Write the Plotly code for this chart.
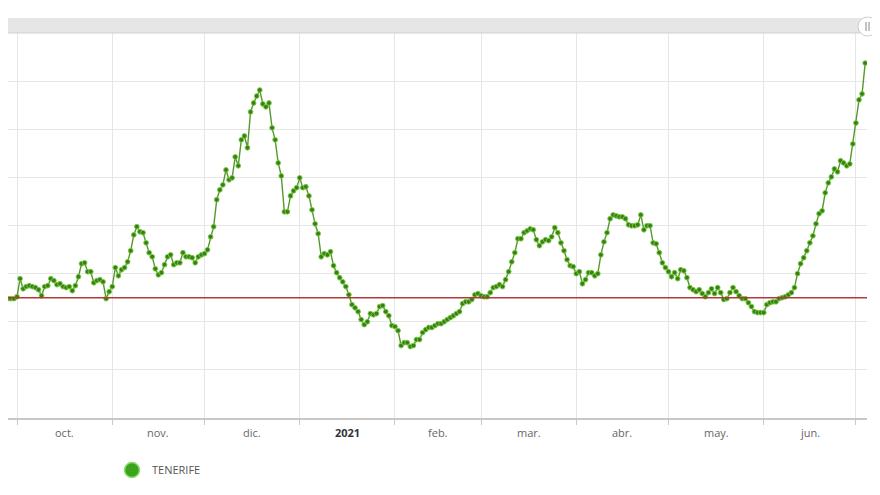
import pandas as pd
import plotly.graph_objects as go

# ---- data (daily values, red reference line at 1.0) ----
start_date = "2020-09-25"
sep_2020 = [1.012, 1.008, 0.996, 0.996, 0.996, 0.996]
oct_2020 = [1.004, 1.079, 1.037, 1.046, 1.050, 1.046, 1.042, 1.033, 1.008, 1.046,
            1.050, 1.079, 1.071, 1.054, 1.058, 1.046, 1.042, 1.046, 1.029, 1.050,
            1.087, 1.141, 1.145, 1.108, 1.108, 1.062, 1.071, 1.075, 1.066, 0.996,
            1.025]
nov_2020 = [1.046, 1.125, 1.091, 1.116, 1.125, 1.149, 1.195, 1.261, 1.295, 1.274,
            1.270, 1.228, 1.187, 1.170, 1.120, 1.095, 1.104, 1.137, 1.170, 1.178,
            1.137, 1.145, 1.145, 1.187, 1.170, 1.170, 1.166, 1.145, 1.170, 1.178]
dec_2020 = [1.183, 1.199, 1.253, 1.295, 1.407, 1.448, 1.469, 1.531, 1.490, 1.498,
            1.585, 1.548, 1.656, 1.672, 1.623, 1.772, 1.809, 1.838, 1.863, 1.805,
            1.793, 1.809, 1.706, 1.656, 1.560, 1.506, 1.357, 1.357, 1.423, 1.444,
            1.457]
jan_2021 = [1.498, 1.457, 1.461, 1.423, 1.365, 1.307, 1.266, 1.170, 1.183, 1.178,
            1.191, 1.133, 1.104, 1.083, 1.066, 1.046, 1.012, 0.971, 0.958, 0.942,
            0.909, 0.888, 0.900, 0.934, 0.929, 0.934, 0.963, 0.967, 0.942, 0.925,
            0.884]
feb_2021 = [0.880, 0.863, 0.801, 0.813, 0.813, 0.797, 0.801, 0.826, 0.826, 0.855,
            0.867, 0.876, 0.876, 0.884, 0.892, 0.892, 0.900, 0.909, 0.917, 0.925,
            0.934, 0.942, 0.975, 0.983, 0.983, 0.992, 1.012, 1.017]
mar_2021 = [1.008, 1.004, 1.004, 1.021, 1.042, 1.046, 1.054, 1.046, 1.075, 1.108,
            1.149, 1.187, 1.245, 1.245, 1.270, 1.278, 1.286, 1.282, 1.241, 1.216,
            1.232, 1.241, 1.237, 1.253, 1.291, 1.270, 1.228, 1.195, 1.158, 1.133,
            1.129]
apr_2021 = [1.100, 1.108, 1.058, 1.075, 1.104, 1.104, 1.091, 1.100, 1.178, 1.232,
            1.270, 1.328, 1.344, 1.340, 1.336, 1.336, 1.328, 1.303, 1.299, 1.299,
            1.303, 1.344, 1.282, 1.299, 1.299, 1.228, 1.224, 1.187, 1.145, 1.125]
may_2021 = [1.108, 1.087, 1.104, 1.079, 1.116, 1.112, 1.083, 1.042, 1.033, 1.025,
            1.033, 1.017, 1.004, 1.021, 1.037, 1.017, 1.042, 1.021, 0.992, 0.996,
            1.021, 1.042, 1.025, 1.008, 0.996, 0.996, 0.979, 0.963, 0.942, 0.938,
            0.938]
jun_2021 = [0.938, 0.971, 0.979, 0.983, 0.983, 0.996, 1.000, 1.004, 1.012, 1.021,
            1.042, 1.100, 1.141, 1.166, 1.195, 1.228, 1.257, 1.307, 1.349, 1.361,
            1.436, 1.477, 1.502, 1.535, 1.523, 1.569, 1.560, 1.548, 1.556, 1.639]
jul_2021 = [1.726, 1.822, 1.847, 1.975]

series_name = "TENERIFE"
threshold = 1.0
month_starts = ["2020-10-01", "2020-11-01", "2020-12-01", "2021-01-01", "2021-02-01",
                "2021-03-01", "2021-04-01", "2021-05-01", "2021-06-01", "2021-07-01"]
month_labels = ["oct.", "nov.", "dic.", "2021", "feb.", "mar.", "abr.", "may.", "jun."]

values = (sep_2020 + oct_2020 + nov_2020 + dec_2020 + jan_2021 + feb_2021 +
          mar_2021 + apr_2021 + may_2021 + jun_2021 + jul_2021)
dates = pd.date_range(start_date, periods=len(values), freq="D")

# ---- geometry (page has an 8px body margin, compensated here) ----
W, H = 880, 495
OFF = 8
ml, mt = 0, 33 - OFF
plot_w = 867 - OFF - ml
plot_h = 418 - 33
mr = W - ml - plot_w
mb = H - mt - plot_h


def px_x(px):  # page px -> paper x
    return (px - OFF - ml) / plot_w


def px_y(py):  # page px -> paper y
    return (mt + plot_h - (py - OFF)) / plot_h


fig = go.Figure()
fig.add_trace(go.Scatter(
    x=dates, y=values, mode="lines+markers", name=series_name, showlegend=False,
    line=dict(color="#55992c", width=1.4),
    marker=dict(size=4.8, color="#3f7a1c", line=dict(color="#72d23a", width=0.9)),
))
# legend entry (circle symbol, as in the original legend)
fig.add_trace(go.Scatter(
    x=[None], y=[None], mode="markers", name=series_name, showlegend=True,
    marker=dict(size=15, color="#3aa41a", line=dict(color="#8fdc6c", width=1.5)),
))

# red reference line
fig.add_shape(type="line", xref="paper", yref="y", x0=0, x1=1, y0=threshold, y1=threshold,
              line=dict(color="#b03a3a", width=1.5), layer="above")

# month labels centred between month starts
for i, lab in enumerate(month_labels):
    a = pd.Timestamp(month_starts[i])
    b = pd.Timestamp(month_starts[i + 1])
    mid = a + (b - a) / 2
    bold = lab == "2021"
    fig.add_annotation(
        x=mid, xref="x", y=px_y(432), yref="paper",
        text=f"<b>{lab}</b>" if bold else lab, showarrow=False,
        font=dict(family="Open Sans, Arial, sans-serif", size=11,
                  color="#333333" if bold else "#666666"),
        xanchor="center", yanchor="middle",
    )

# navigator scrollbar at the top
fig.add_shape(type="rect", xref="paper", yref="paper",
              x0=0, x1=px_x(862), y0=px_y(33), y1=px_y(18),
              fillcolor="#e6e6e6", line=dict(width=0), layer="above")
fig.add_shape(type="line", xref="paper", yref="paper",
              x0=0, x1=px_x(862), y0=px_y(33), y1=px_y(33),
              line=dict(color="#d0d0d0", width=1), layer="above")
fig.add_shape(type="circle", xref="paper", yref="paper",
              x0=px_x(858), x1=px_x(877), y0=px_y(36), y1=px_y(17),
              fillcolor="#ffffff", line=dict(color="#cccccc", width=1), layer="above")
for lx in (866, 869):
    fig.add_shape(type="line", xref="paper", yref="paper",
                  x0=px_x(lx), x1=px_x(lx), y0=px_y(31), y1=px_y(22),
                  line=dict(color="#888888", width=1), layer="above")

fig.update_layout(
    width=W, height=H,
    margin=dict(l=ml, r=mr, t=mt, b=mb, pad=0),
    paper_bgcolor="#ffffff", plot_bgcolor="#ffffff",
    font=dict(family="Open Sans, Arial, sans-serif", size=11, color="#666666"),
    showlegend=True,
    legend=dict(orientation="h", x=px_x(112), xanchor="left",
                y=px_y(470), yanchor="middle",
                font=dict(size=11, color="#555555"), itemsizing="trace",
                bgcolor="rgba(0,0,0,0)"),
    xaxis=dict(
        type="date",
        range=["2020-09-28 01:42", "2021-07-04 14:24"],
        tickvals=month_starts, showticklabels=False,
        showgrid=True, gridcolor="#e6e6e6", gridwidth=1,
        ticks="outside", ticklen=5, tickcolor="#c8c8c8",
        showline=True, linecolor="#c8c8c8", linewidth=1.5,
        zeroline=False, fixedrange=True,
    ),
    yaxis=dict(
        range=[0.5, 2.1], tick0=0.5, dtick=0.2,
        showticklabels=False, showgrid=True, gridcolor="#e6e6e6", gridwidth=1,
        zeroline=False, showline=False, fixedrange=True,
    ),
)

fig.write_html("out.html")
